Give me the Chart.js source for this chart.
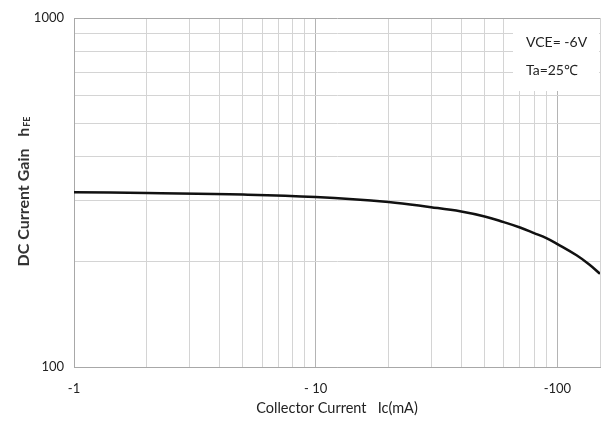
<!DOCTYPE html>
<html>
<head>
<meta charset="utf-8">
<script src="https://cdn.jsdelivr.net/npm/chart.js@4/dist/chart.umd.min.js"></script>
<style>
  html, body { margin: 0; padding: 0; background: #fff; }
  #wrap { width: 605px; height: 425px; }
</style>
</head>
<body>
<div id="wrap"><canvas id="hfeChart" width="605" height="425"></canvas></div>
<script>
// collector current (mA) and DC current gain
const collectorCurrent = [-1, -2, -5, -10, -20, -30, -40, -50, -60, -70, -80, -90, -100, -120, -135, -150];
const dcGain = [317, 315, 312, 307, 297, 287, 279, 270, 260, 251, 242, 234, 225, 209, 197, 185];

// grid positions (log axes)
const xGrid = [1, 2, 3, 4, 5, 6, 7, 8, 9, 10, 20, 30, 40, 50, 60, 70, 80, 90, 100, 150];
const xLabels = { 1: '-1', 10: '- 10', 100: '-100' };
const yGrid = [100, 200, 300, 400, 500, 600, 700, 800, 900, 1000];
const yLabels = { 100: '100', 1000: '1000' };

const conditionText = ['VCE= -6V', 'Ta=25\u2103'];

const FONT = 'Lato, "Open Sans", sans-serif';

// axis titles + condition box
const extrasPlugin = {
    id: 'extras',
    beforeDatasetsDraw(chart) {
        const ctx = chart.ctx;
        const a = chart.chartArea;
        // white box with test conditions (covers grid in corner)
        ctx.save();
        ctx.fillStyle = '#ffffff';
        ctx.fillRect(a.right - 87, a.top + 1, 86, 72);
        ctx.fillStyle = '#222';
        ctx.font = '14px ' + FONT;
        ctx.textBaseline = 'middle';
        ctx.textAlign = 'left';
        ctx.fillText(conditionText[0], a.right - 74, a.top + 24);
        ctx.fillText(conditionText[1], a.right - 74, a.top + 52);
        ctx.restore();
    },
    afterDraw(chart) {
        const ctx = chart.ctx;
        ctx.save();
        ctx.fillStyle = '#222';
        // x title
        ctx.font = '14.5px ' + FONT;
        ctx.textAlign = 'center';
        ctx.textBaseline = 'middle';
        ctx.fillText('Collector Current   Ic(mA)', 337, 408);
        // y title with subscript
        ctx.translate(24, 192);
        ctx.rotate(-Math.PI / 2);
        ctx.textAlign = 'left';
        const main = 'DC Current Gain   h';
        ctx.font = 'bold 16px ' + FONT;
        const w1 = ctx.measureText(main).width;
        ctx.font = 'bold 9px ' + FONT;
        const w2 = ctx.measureText('FE').width;
        const start = -(w1 + w2) / 2;
        ctx.font = 'bold 16px ' + FONT;
        ctx.fillStyle = '#333';
        ctx.fillText(main, start, 0);
        ctx.font = 'bold 9px ' + FONT;
        ctx.fillText('FE', start + w1 + 1, 3);
        ctx.restore();
    }
};

const ctx = document.getElementById('hfeChart').getContext('2d');
const hfeChart = new Chart(ctx, {
    type: 'line',
    data: {
        datasets: [{
            data: collectorCurrent.map((x, i) => ({ x: Math.abs(x), y: dcGain[i] })),
            borderColor: '#111',
            borderWidth: 2.5,
            pointRadius: 0,
            fill: false,
            tension: 0.4
        }]
    },
    options: {
        responsive: false,
        animation: false,
        layout: { padding: { top: 18, right: 5, left: 0, bottom: 0 } },
        plugins: {
            legend: { display: false },
            tooltip: { enabled: false }
        },
        scales: {
            x: {
                type: 'logarithmic',
                min: 1,
                max: 150,
                afterBuildTicks: (scale) => { scale.ticks = xGrid.map(v => ({ value: v })); },
                afterFit: (scale) => {
                    scale.height = 58;
                    scale.paddingLeft = 0;
                    scale.paddingRight = 0;
                },
                grid: {
                    drawTicks: false,
                    color: (c) => ([1, 10, 100].includes(c.tick.value) ? '#b4b4b4' : '#d4d4d4'),
                    lineWidth: 1
                },
                border: { display: true, color: '#a8a8a8' },
                ticks: {
                    padding: 14,
                    autoSkip: false,
                    maxRotation: 0,
                    color: '#222',
                    font: { family: FONT, size: 13 },
                    callback: (v) => xLabels[v] || ''
                }
            },
            y: {
                type: 'logarithmic',
                min: 100,
                max: 1000,
                afterBuildTicks: (scale) => { scale.ticks = yGrid.map(v => ({ value: v })); },
                afterFit: (scale) => {
                    scale.width = 74;
                    scale.paddingTop = 0;
                    scale.paddingBottom = 0;
                },
                grid: {
                    drawTicks: false,
                    color: (c) => ([100, 1000].includes(c.tick.value) ? '#a8a8a8' : '#d4d4d4'),
                    lineWidth: 1
                },
                border: { display: true, color: '#a8a8a8' },
                ticks: {
                    padding: 10,
                    autoSkip: false,
                    color: '#222',
                    font: { family: FONT, size: 13 },
                    callback: (v) => yLabels[v] || ''
                }
            }
        }
    },
    plugins: [extrasPlugin]
});
</script>
</body>
</html>
